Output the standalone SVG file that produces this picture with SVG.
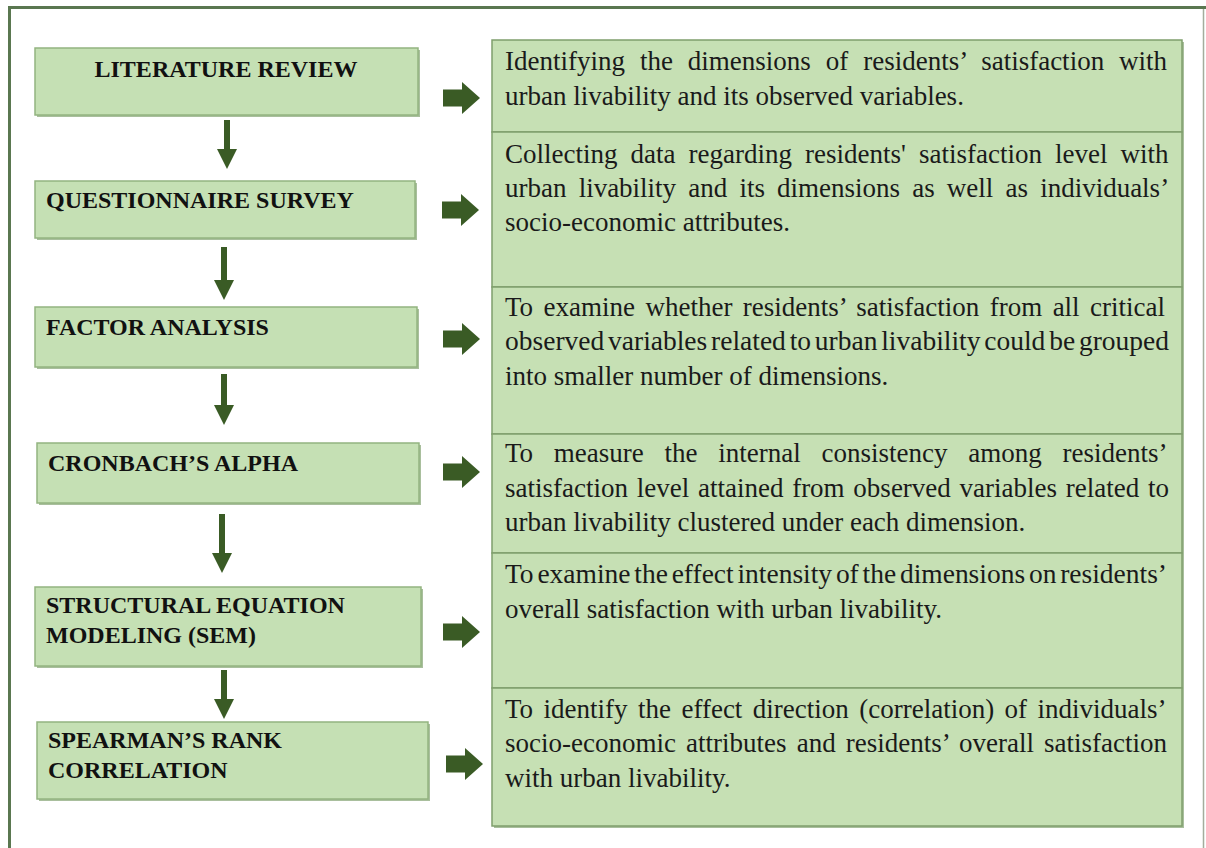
<svg xmlns="http://www.w3.org/2000/svg" xmlns:xlink="http://www.w3.org/1999/xlink" width="1206" height="848" viewBox="0 0 1206 848">
  <style>
    .step { fill: #c5e0b4; stroke: #93b480; stroke-width: 1.5; }
    .shadow { fill: #a9bf9d; }
    .cell { fill: #c6e0b4; stroke: #7f9f6c; stroke-width: 1.5; }
    .title { font-family: "Liberation Serif", "Times New Roman", serif; font-weight: bold; font-size: 24px; fill: #111111; }
    .desc { font-family: "Liberation Serif", "Times New Roman", serif; font-size: 27px; fill: #1a1a1a; }
    .flow { stroke: #3a5b25; stroke-width: 6; fill: none; }
    .frame { fill: none; stroke: #5a7750; stroke-width: 3; }
  </style>
  <defs>
    <marker id="head" markerUnits="userSpaceOnUse" markerWidth="20" markerHeight="20" refX="0" refY="10" orient="auto" viewBox="0 0 20 20">
      <path d="M0,0 L20,10 L0,20 Z" fill="#3a5b25"/>
    </marker>
    <path id="block" d="M0,-8.5 H19 V-16 L37,0 L19,16 V8.5 H0 Z" fill="#3a5b25"/>
  </defs>

  <rect width="1206" height="848" fill="#ffffff"/>

  <!-- outer frame -->
  <path class="frame" d="M9.5,848 V7.5 H1206"/>
  <line x1="1203.5" y1="9" x2="1203.5" y2="848" stroke="#a3ad9c" stroke-width="1.5"/>

  <!-- method steps (left column) -->
  <g id="step-literature-review">
    <rect class="shadow" x="37" y="50" width="383" height="67"/>
    <rect class="step" x="35" y="48" width="383" height="67"/>
    <text class="title" x="226" y="77" text-anchor="middle">LITERATURE REVIEW</text>
  </g>
  <g id="step-questionnaire-survey">
    <rect class="shadow" x="37" y="183" width="380" height="57"/>
    <rect class="step" x="35" y="181" width="380" height="57"/>
    <text class="title" x="46" y="208">QUESTIONNAIRE SURVEY</text>
  </g>
  <g id="step-factor-analysis">
    <rect class="shadow" x="37" y="309" width="382" height="60"/>
    <rect class="step" x="35" y="307" width="382" height="60"/>
    <text class="title" x="46" y="335">FACTOR ANALYSIS</text>
  </g>
  <g id="step-cronbach-alpha">
    <rect class="shadow" x="39" y="445" width="382" height="60"/>
    <rect class="step" x="37" y="443" width="382" height="60"/>
    <text class="title" x="48" y="471">CRONBACH’S ALPHA</text>
  </g>
  <g id="step-sem">
    <rect class="shadow" x="37" y="589" width="386" height="79"/>
    <rect class="step" x="35" y="587" width="386" height="79"/>
    <text class="title" x="46" y="613">STRUCTURAL EQUATION</text>
    <text class="title" x="46" y="643">MODELING (SEM)</text>
  </g>
  <g id="step-spearman">
    <rect class="shadow" x="39" y="724" width="391" height="77"/>
    <rect class="step" x="37" y="722" width="391" height="77"/>
    <text class="title" x="48" y="748">SPEARMAN’S RANK</text>
    <text class="title" x="48" y="778">CORRELATION</text>
  </g>

  <!-- purpose of each step (right column table); word-spacing justifies full lines -->
  <rect class="shadow" x="494" y="42" width="690" height="786"/>
  <g id="purpose-literature-review">
    <rect class="cell" x="492" y="40" width="690" height="92"/>
    <text class="desc" x="505" y="70" word-spacing="8.2">Identifying the dimensions of residents’ satisfaction with</text>
    <text class="desc" x="505" y="105">urban livability and its observed variables.</text>
  </g>
  <g id="purpose-questionnaire-survey">
    <rect class="cell" x="492" y="132" width="690" height="155"/>
    <text class="desc" x="505" y="163" word-spacing="6.3">Collecting data regarding residents' satisfaction level with</text>
    <text class="desc" x="505" y="197" word-spacing="5.4">urban livability and its dimensions as well as individuals’</text>
    <text class="desc" x="505" y="231">socio-economic attributes.</text>
  </g>
  <g id="purpose-factor-analysis">
    <rect class="cell" x="492" y="287" width="690" height="147"/>
    <text class="desc" x="505" y="316" word-spacing="3.7">To examine whether residents’ satisfaction from all critical</text>
    <text class="desc" x="505" y="350" word-spacing="-3" textLength="664" lengthAdjust="spacingAndGlyphs">observed variables related to urban livability could be grouped</text>
    <text class="desc" x="505" y="385">into smaller number of dimensions.</text>
  </g>
  <g id="purpose-cronbach-alpha">
    <rect class="cell" x="492" y="434" width="690" height="119"/>
    <text class="desc" x="505" y="462" word-spacing="14">To measure the internal consistency among residents’</text>
    <text class="desc" x="505" y="497" word-spacing="2">satisfaction level attained from observed variables related to</text>
    <text class="desc" x="505" y="531">urban livability clustered under each dimension.</text>
  </g>
  <g id="purpose-sem">
    <rect class="cell" x="492" y="553" width="690" height="135"/>
    <text class="desc" x="505" y="583" word-spacing="-3" textLength="662" lengthAdjust="spacingAndGlyphs">To examine the effect intensity of the dimensions on residents’</text>
    <text class="desc" x="505" y="618">overall satisfaction with urban livability.</text>
  </g>
  <g id="purpose-spearman">
    <rect class="cell" x="492" y="688" width="690" height="138"/>
    <text class="desc" x="505" y="718" word-spacing="3.7">To identify the effect direction (correlation) of individuals’</text>
    <text class="desc" x="505" y="752" word-spacing="3.4">socio-economic attributes and residents’ overall satisfaction</text>
    <text class="desc" x="505" y="787">with urban livability.</text>
  </g>

  <!-- connectors -->
  <g id="connectors">
    <line class="flow" x1="227" y1="120" x2="227" y2="149" marker-end="url(#head)"/>
    <line class="flow" x1="224" y1="247" x2="224" y2="280" marker-end="url(#head)"/>
    <line class="flow" x1="224" y1="374" x2="224" y2="405" marker-end="url(#head)"/>
    <line class="flow" x1="222" y1="514" x2="222" y2="553" marker-end="url(#head)"/>
    <line class="flow" x1="224" y1="670" x2="224" y2="699" marker-end="url(#head)"/>
    <use xlink:href="#block" x="443" y="98"/>
    <use xlink:href="#block" x="442" y="210"/>
    <use xlink:href="#block" x="443" y="339"/>
    <use xlink:href="#block" x="443" y="472"/>
    <use xlink:href="#block" x="443" y="632"/>
    <use xlink:href="#block" x="446" y="764"/>
  </g>
</svg>
